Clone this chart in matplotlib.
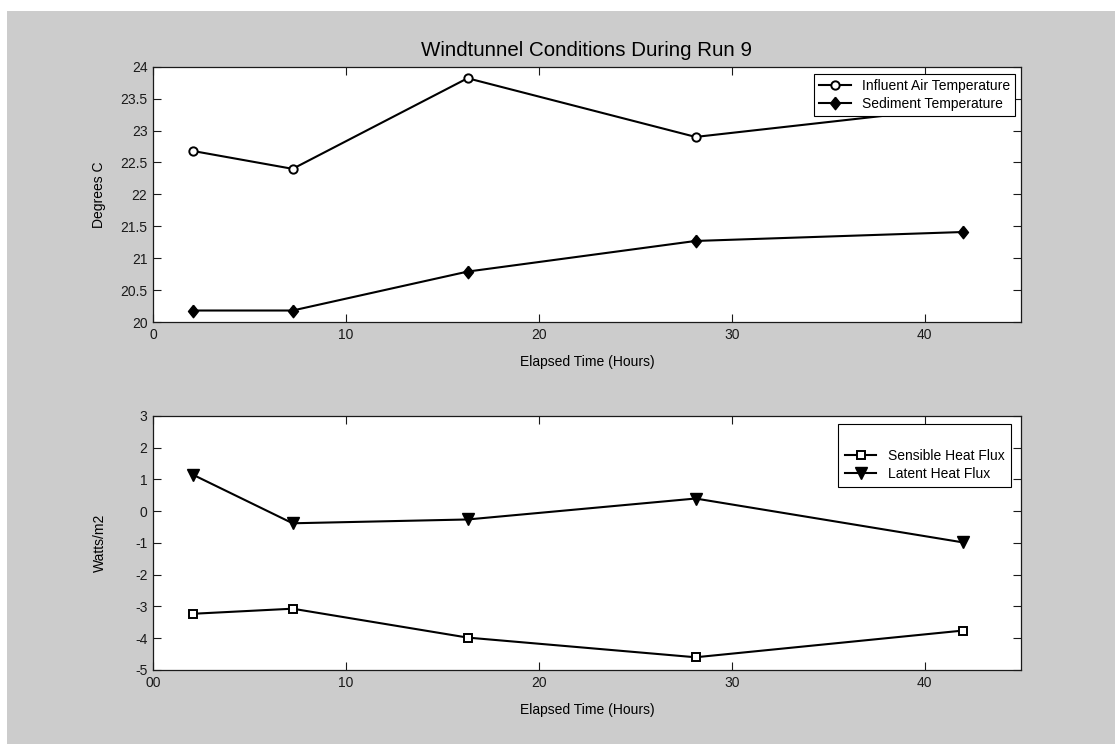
import matplotlib

matplotlib.use("Agg")
import matplotlib.pyplot as plt
from matplotlib.patches import Rectangle

plt.rcParams["font.family"] = ["Liberation Sans", "DejaVu Sans"]
plt.rcParams["axes.unicode_minus"] = False

# elapsed time of each sample (hours)
hours = [2.07, 7.24, 16.31, 28.13, 41.97]

# top panel: temperatures (deg C)
influent_air = [22.68, 22.40, 23.82, 22.90, 23.37]
sediment = [20.18, 20.18, 20.79, 21.27, 21.41]

# bottom panel: heat fluxes (W/m2)
sensible_flux = [-3.23, -3.07, -3.98, -4.60, -3.76]
latent_flux = [1.15, -0.38, -0.26, 0.40, -0.98]

x_ticks = [0, 10, 20, 30, 40]
top_xlabels = ["0", "10", "20", "30", "40"]
bottom_xlabels = ["00", "10", "20", "30", "40"]
top_yticks = [20, 20.5, 21, 21.5, 22, 22.5, 23, 23.5, 24]
top_ylabels = ["20", "20.5", "21", "21.5", "22", "22.5", "23", "23.5", "24"]
bottom_yticks = [-5, -4, -3, -2, -1, 0, 1, 2, 3]

GRAY = "#cccccc"
INK = "#1a1a1a"
FS = 10
# MATLAB-style diamond, a little taller than wide
DIAMOND = [(0, 1), (0.8, 0), (0, -1), (-0.8, 0), (0, 1)]


def _style(ax):
    ax.set_facecolor("white")
    for s in ax.spines.values():
        s.set_linewidth(0.9)
        s.set_color(INK)
    ax.tick_params(direction="in", top=True, right=True, length=5.5, width=0.8,
                   labelsize=FS, colors=INK, pad=4)
    ax.set_xlim(0, 45)
    ax.set_xticks(x_ticks)


fig = plt.figure(figsize=(11.15, 7.44), dpi=100, facecolor="white")
fig.patches.append(Rectangle((7 / 1115, 0), 1, 733 / 744, transform=fig.transFigure,
                             facecolor=GRAY, edgecolor="none", zorder=-10))

ax1 = fig.add_axes([0.1372, 0.5672, 0.7785, 0.3431])
ax2 = fig.add_axes([0.1372, 0.0995, 0.7785, 0.3414])

leg_kw = dict(loc="upper right", borderaxespad=0, fontsize=FS, fancybox=False,
              framealpha=1, edgecolor="black", handlelength=2.3,
              handletextpad=0.8, labelspacing=0.3)

# top panel
_style(ax1)
ax1.plot(hours, influent_air, color="black", lw=1.5, marker="o", ms=6,
         mfc="white", mec="black", mew=1.4, label="Influent Air Temperature")
ax1.plot(hours, sediment, color="black", lw=1.5, marker=DIAMOND, ms=9,
         mfc="black", mec="black", label="Sediment Temperature")
ax1.set_ylim(20, 24)
ax1.set_yticks(top_yticks)
ax1.set_yticklabels(top_ylabels)
ax1.set_xticklabels(top_xlabels)
ax1.set_ylabel("Degrees C", fontsize=FS, labelpad=10)
ax1.set_xlabel("Elapsed Time (Hours)", fontsize=FS, labelpad=10)
ax1.set_title("Windtunnel Conditions During Run 9", fontsize=14.8, pad=8)
leg1 = ax1.legend(bbox_to_anchor=(0.993, 0.971), borderpad=0.35, **leg_kw)
leg1.get_frame().set_linewidth(0.8)

# bottom panel
_style(ax2)
ax2.plot(hours, sensible_flux, color="black", lw=1.5, marker="s", ms=6,
         mfc="white", mec="black", mew=1.4, label="Sensible Heat Flux")
ax2.plot(hours, latent_flux, color="black", lw=1.5, marker="v", ms=9,
         mfc="black", mec="black", label="Latent Heat Flux")
ax2.set_ylim(-5, 3)
ax2.set_yticks(bottom_yticks)
ax2.set_xticklabels(bottom_xlabels)
ax2.set_ylabel("Watts/m2", fontsize=FS, labelpad=20)
ax2.set_xlabel("Elapsed Time (Hours)", fontsize=FS, labelpad=10)
leg2 = ax2.legend(bbox_to_anchor=(0.988, 0.967), borderpad=0.45, title=" ",
                  title_fontsize=FS, **leg_kw)
leg2.get_frame().set_linewidth(0.8)

fig.savefig("out.png", dpi=100, facecolor=fig.get_facecolor())
